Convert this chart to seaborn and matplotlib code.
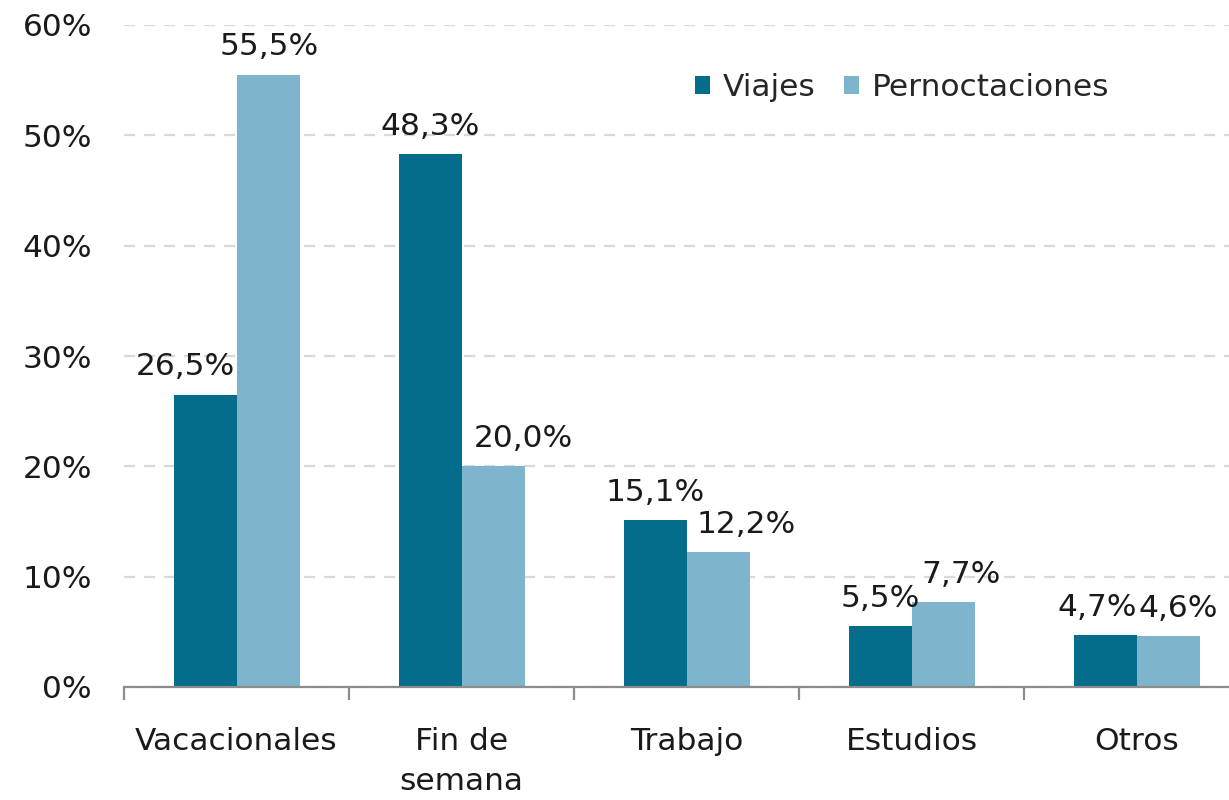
import matplotlib
matplotlib.use("Agg")
import matplotlib.pyplot as plt
import seaborn as sns
import pandas as pd

categories = ["Vacacionales", "Fin de\nsemana", "Trabajo", "Estudios", "Otros"]
series_names = ["Viajes", "Pernoctaciones"]
viajes = [26.5, 48.3, 15.1, 5.5, 4.7]
pernoctaciones = [55.5, 20.0, 12.2, 7.7, 4.6]
y_ticks = [0, 10, 20, 30, 40, 50, 60]

colors = {"Viajes": "#056d8c", "Pernoctaciones": "#7fb4cd"}
# label horizontal offsets (points) to mimic original label placement
label_dx = {"Viajes": [-14, 0, 0, 0, -6], "Pernoctaciones": [1, 22, 20, 13, 7]}
FS = 22.5

rows = []
for c, v, p in zip(categories, viajes, pernoctaciones):
    rows.append({"cat": c, "serie": "Viajes", "val": v})
    rows.append({"cat": c, "serie": "Pernoctaciones", "val": p})
df = pd.DataFrame(rows)

sns.set_theme(style="white")
plt.rcParams["font.family"] = ["DejaVu Sans"]

fig = plt.figure(figsize=(12.29, 8), dpi=100)
ax = fig.add_axes([124 / 1229, 113 / 800, 1105 / 1229, 662 / 800])

sns.barplot(data=df, x="cat", y="val", hue="serie", hue_order=series_names,
            order=categories, palette=colors, width=0.56, ax=ax,
            saturation=1, errorbar=None, linewidth=0)

ax.set_yticks(y_ticks)
ax.set_yticklabels([f"{t}%" for t in y_ticks])
ax.set_xlabel("")
ax.set_ylabel("")

ax.yaxis.grid(True, color="#d9d9d9", linestyle=(0, (5, 4)), linewidth=1.6)
ax.set_axisbelow(True)
for s in ["top", "right", "left"]:
    ax.spines[s].set_visible(False)
ax.spines["bottom"].set_color("#8c8c8c")
ax.spines["bottom"].set_linewidth(1.6)

ax.tick_params(axis="y", length=0, pad=23, labelsize=FS, labelcolor="#1a1a1a")
ax.tick_params(axis="x", which="major", length=0, pad=29, labelsize=FS, labelcolor="#1a1a1a")
ax.set_xticks([i - 0.5 for i in range(6)], minor=True)
ax.tick_params(axis="x", which="minor", bottom=True, length=9, width=1.6,
               color="#8c8c8c", direction="out")
for lbl in ax.get_xticklabels():
    lbl.set_linespacing(1.45)

for cont, name in zip(ax.containers, series_names):
    vals = viajes if name == "Viajes" else pernoctaciones
    for bar, v, dx in zip(cont, vals, label_dx[name]):
        ax.annotate(f"{v:.1f}%".replace(".", ","),
                    (bar.get_x() + bar.get_width() / 2, bar.get_height()),
                    xytext=(dx, 14), textcoords="offset points",
                    ha="center", va="baseline", fontsize=FS, color="#1a1a1a",
                    annotation_clip=False)

leg = ax.legend(loc="center", bbox_to_anchor=(0.704, 0.905), ncol=2, frameon=False,
                fontsize=FS, handlelength=0.5, handleheight=0.5, handletextpad=0.4,
                columnspacing=0.9)

ax.set_autoscale_on(False)
ax.set_xlim(-0.5, 4.41)
ax.set_ylim(0, 60)

fig.savefig("out.png", dpi=100)
